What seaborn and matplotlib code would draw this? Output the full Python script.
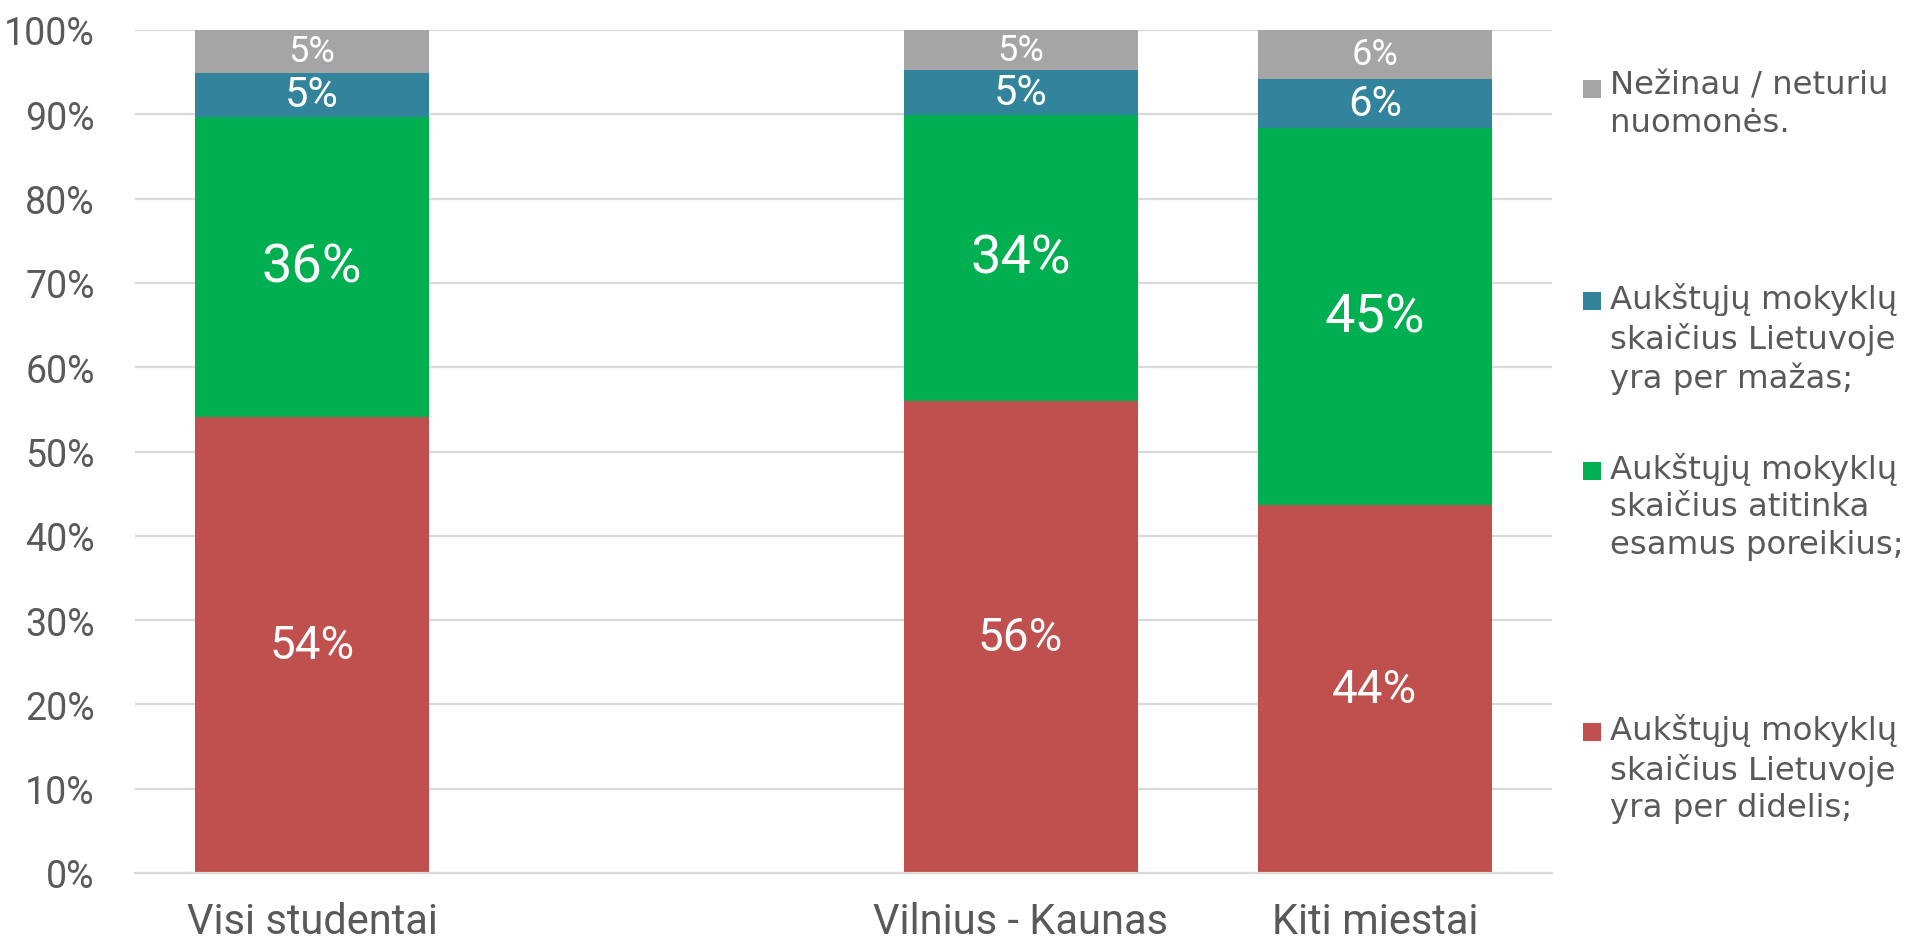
import matplotlib.pyplot as plt
import pandas as pd
import seaborn as sns
from matplotlib.patches import Rectangle

# categories (empty slot between the first and second group)
groups = ["Visi studentai", "", "Vilnius - Kaunas", "Kiti miestai"]
data_groups = ["Visi studentai", "Vilnius - Kaunas", "Kiti miestai"]

# shares in percent, bottom to top
per_didelis = [54.1, 56.0, 43.6]
atitinka = [35.6, 33.9, 44.8]
per_mazas = [5.2, 5.3, 5.8]
nezinau = [5.1, 4.8, 5.8]

series_names = [
    "Aukštųjų mokyklų\nskaičius Lietuvoje\nyra per didelis;",
    "Aukštųjų mokyklų\nskaičius atitinka\nesamus poreikius;",
    "Aukštųjų mokyklų\nskaičius Lietuvoje\nyra per mažas;",
    "Nežinau / neturiu\nnuomonės.",
]
colors = ["#C0504D", "#00B050", "#31849B", "#A5A5A5"]
label_sizes = [33, 39, 30, 26]

TEXT = "#595959"
NARROW = ["Roboto", "DejaVu Sans"]


def main():
    sns.set_theme(style="white")
    plt.rcParams["font.family"] = NARROW

    df = pd.DataFrame(
        {
            "group": data_groups,
            "s0": per_didelis,
            "s1": atitinka,
            "s2": per_mazas,
            "s3": nezinau,
        }
    )
    cols = ["s0", "s1", "s2", "s3"]
    cum = df[cols].cumsum(axis=1)

    fig = plt.figure(figsize=(19.15, 9.45), dpi=100)
    ax = fig.add_axes([135 / 1915, 1 - 874 / 945, (1552 - 135) / 1915, (874 - 31) / 945])

    # stacked bars: draw the running totals from the top layer down
    for i in reversed(range(4)):
        plot_df = pd.DataFrame({"group": df["group"], "top": cum[cols[i]]})
        sns.barplot(
            data=plot_df, x="group", y="top", order=groups, color=colors[i],
            saturation=1, width=0.66, linewidth=0, ax=ax, errorbar=None,
        )

    # value labels in the middle of each segment
    for j, g in enumerate(data_groups):
        xpos = groups.index(g)
        for i in range(4):
            val = df[cols[i]].iloc[j]
            top = cum[cols[i]].iloc[j]
            ax.text(xpos, top - val / 2, f"{val:.0f}%", ha="center", va="center",
                    color="white", fontsize=label_sizes[i], family=NARROW)

    ax.set_ylim(0, 100)
    ax.set_xlim(-0.5, 3.5)
    ax.set_yticks(range(0, 101, 10))
    ax.set_yticklabels([f"{v}%" for v in range(0, 101, 10)])
    ax.yaxis.grid(True, color="#D9D9D9", linewidth=1.6)
    ax.set_axisbelow(True)
    ax.tick_params(axis="y", length=0, pad=29, labelsize=27, labelcolor=TEXT)
    ax.tick_params(axis="x", length=0, pad=20, labelsize=30, labelcolor=TEXT)
    ax.set_xlabel("")
    ax.set_ylabel("")
    for side in ["top", "right", "left"]:
        ax.spines[side].set_visible(False)
    ax.spines["bottom"].set_color("#D9D9D9")
    ax.spines["bottom"].set_linewidth(1.6)

    # legend, drawn by hand to keep Excel's uneven spacing
    entry_tops = [720, 459, 289, 77]
    for i in range(4):
        ytop = entry_tops[i]
        fig.patches.append(
            Rectangle((1583 / 1915, 1 - (ytop + 22) / 945), 18 / 1915, 18 / 945,
                      transform=fig.transFigure, facecolor=colors[i], edgecolor="none")
        )
        fig.text(1610 / 1915, 1 - (ytop - 6) / 945, series_names[i], ha="left", va="top",
                 fontsize=23.3, color=TEXT, linespacing=1.27, family=["DejaVu Sans"])

    fig.savefig("out.png", dpi=100)
    plt.close(fig)


if __name__ == "__main__":
    main()
